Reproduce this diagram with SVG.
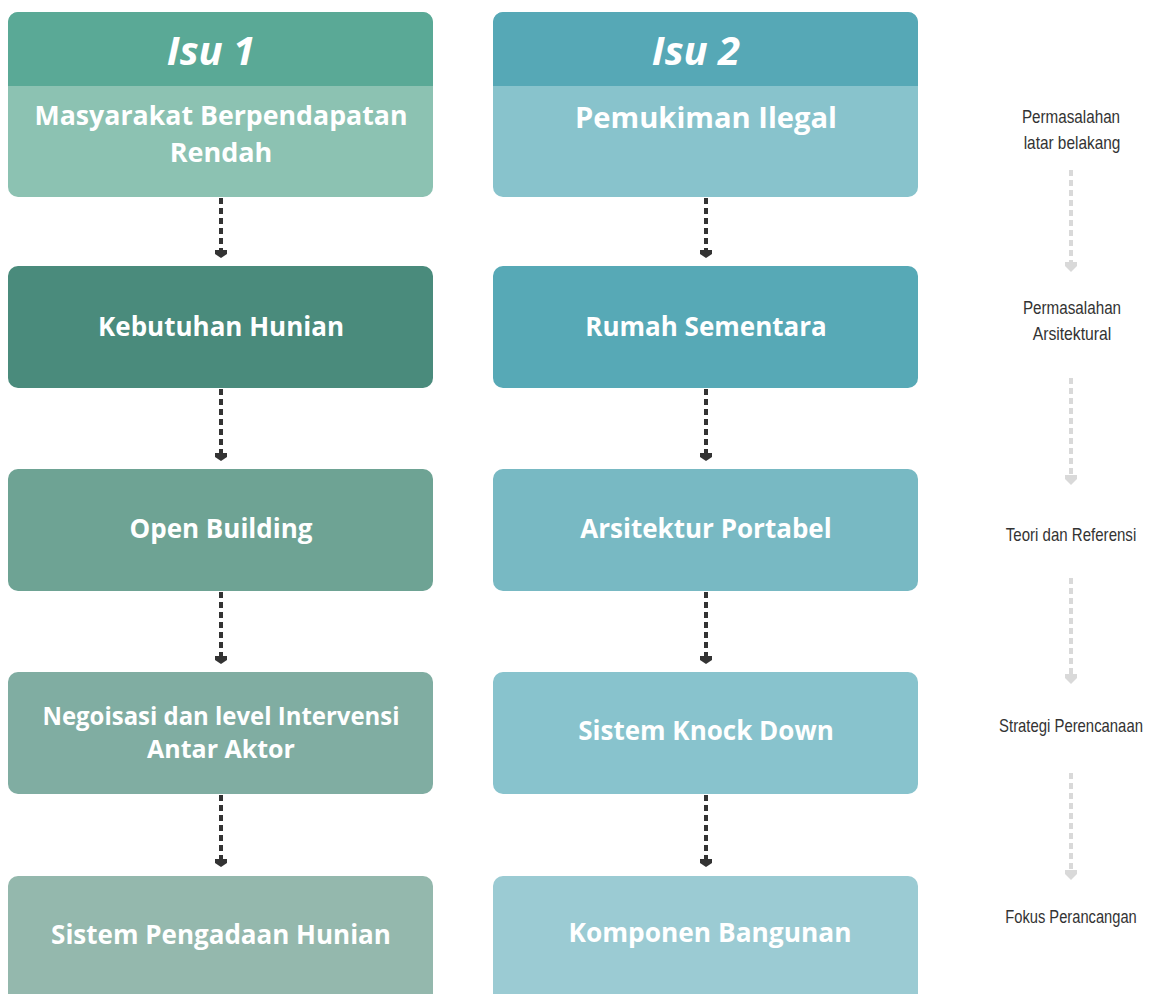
<svg xmlns="http://www.w3.org/2000/svg" width="1154" height="994" viewBox="0 0 1154 994">
<defs>
<style>
.t{font-family:"Open Sans","Noto Sans",sans-serif;font-weight:bold;font-size:26px;fill:#fff;text-anchor:middle}
.h{font-family:"Open Sans","Noto Sans",sans-serif;font-weight:bold;font-style:italic;font-size:40px;fill:#fff;text-anchor:middle}
.s{font-family:"Liberation Sans Narrow","Liberation Sans",sans-serif;font-size:17.5px;fill:#333;text-anchor:middle}
.c{stroke:#333;stroke-width:4;stroke-dasharray:6,4;fill:none}
.g{stroke:#d9d9d9;stroke-width:4;stroke-dasharray:6,4;fill:none}
</style>
<clipPath id="c1"><rect x="8" y="12" width="425" height="185" rx="10"/></clipPath>
<clipPath id="c2"><rect x="493" y="12" width="425" height="185" rx="10"/></clipPath>
</defs>
<g id="isu1">
<g clip-path="url(#c1)"><rect x="8" y="12" width="425" height="185" fill="#8cc2b2"/><rect x="8" y="12" width="425" height="74" fill="#5aa996"/></g>
<text class="h" x="211" y="65">Isu 1</text>
<text class="t" x="221" y="125" style="font-size:27px" textLength="373" lengthAdjust="spacingAndGlyphs">Masyarakat Berpendapatan</text>
<text class="t" x="221" y="162" style="font-size:27px">Rendah</text>
</g>
<g id="isu2">
<g clip-path="url(#c2)"><rect x="493" y="12" width="425" height="185" fill="#88c3cc"/><rect x="493" y="12" width="425" height="74" fill="#56a8b6"/></g>
<text class="h" x="696" y="65">Isu 2</text>
<text class="t" x="706" y="128" style="font-size:29px" textLength="262" lengthAdjust="spacingAndGlyphs">Pemukiman Ilegal</text>
</g>
<g id="n-kebutuhan"><rect x="8" y="266" width="425" height="122" rx="10" fill="#4a8b7c"/><text class="t" x="221" y="336">Kebutuhan Hunian</text></g>
<g id="n-open"><rect x="8" y="469" width="425" height="122" rx="10" fill="#6ea394"/><text class="t" x="221" y="538">Open Building</text></g>
<g id="n-negoisasi"><rect x="8" y="672" width="425" height="122" rx="10" fill="#80ada2"/><text class="t" x="221" y="725" style="font-size:25px" textLength="357" lengthAdjust="spacingAndGlyphs">Negoisasi dan level Intervensi</text><text class="t" x="221" y="758" style="font-size:25px">Antar Aktor</text></g>
<g id="n-sistem"><rect x="8" y="876" width="425" height="130" rx="10" fill="#94b8ad"/><text class="t" x="221" y="944">Sistem Pengadaan Hunian</text></g>
<g id="n-rumah"><rect x="493" y="266" width="425" height="122" rx="10" fill="#57a9b6"/><text class="t" x="706" y="336">Rumah Sementara</text></g>
<g id="n-arsitektur"><rect x="493" y="469" width="425" height="122" rx="10" fill="#78b9c3"/><text class="t" x="706" y="538">Arsitektur Portabel</text></g>
<g id="n-knock"><rect x="493" y="672" width="425" height="122" rx="10" fill="#88c3cd"/><text class="t" x="706" y="740">Sistem Knock Down</text></g>
<g id="n-komponen"><rect x="493" y="876" width="425" height="130" rx="10" fill="#9bcbd3"/><text class="t" x="710" y="942" textLength="283" lengthAdjust="spacingAndGlyphs">Komponen Bangunan</text></g>
<g id="labels">
<text class="s" transform="translate(1071,123) scale(0.87,1)">Permasalahan</text>
<text class="s" transform="translate(1072,149) scale(0.88,1)">latar belakang</text>
<text class="s" transform="translate(1072,314) scale(0.87,1)">Permasalahan</text>
<text class="s" transform="translate(1072,340) scale(0.9,1)">Arsitektural</text>
<text class="s" transform="translate(1071,541) scale(0.86,1)">Teori dan Referensi</text>
<text class="s" transform="translate(1071,732) scale(0.85,1)">Strategi Perencanaan</text>
<text class="s" transform="translate(1071,923) scale(0.84,1)">Fokus Perancangan</text>
</g>
<g id="connectors">
<path class="c" d="M221 198V250M706 198V250M221 389V453M706 389V453M221 592V656M706 592V656M221 795V859M706 795V859"/>
<g fill="#333">
<path d="M215 250L227 250L227 254L221 258L215 254Z"/>
<path d="M700 250L712 250L712 254L706 258L700 254Z"/>
<path d="M215 453L227 453L227 457L221 461L215 457Z"/>
<path d="M700 453L712 453L712 457L706 461L700 457Z"/>
<path d="M215 656L227 656L227 660L221 664L215 660Z"/>
<path d="M700 656L712 656L712 660L706 664L700 660Z"/>
<path d="M215 859L227 859L227 863L221 867L215 863Z"/>
<path d="M700 859L712 859L712 863L706 867L700 863Z"/>
</g>
<path class="g" d="M1071 170V262M1071 378V475M1071 578V674M1071 773V870"/>
<g fill="#d9d9d9">
<path d="M1065 262L1077 262L1077 266L1071 272L1065 266Z"/>
<path d="M1065 475L1077 475L1077 479L1071 485L1065 479Z"/>
<path d="M1065 674L1077 674L1077 678L1071 684L1065 678Z"/>
<path d="M1065 870L1077 870L1077 874L1071 880L1065 874Z"/>
</g>
</g>
</svg>
